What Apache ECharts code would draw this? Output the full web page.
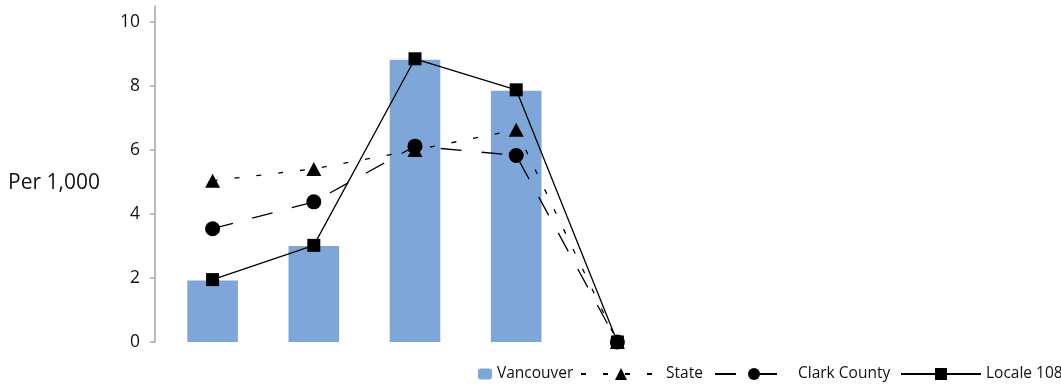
<!DOCTYPE html>
<html>
<head>
<meta charset="utf-8">
<script src="https://cdn.jsdelivr.net/npm/echarts@6/dist/echarts.min.js"></script>
<style>
html,body{margin:0;padding:0;background:#fff;}
#chart{width:1061px;height:386px;}
</style>
</head>
<body>
<div id="chart"></div>
<script>
// ---- data ----
var categories = ['Group 1', 'Group 2', 'Group 3', 'Group 4', 'Group 5'];
var vancouver = [1.92, 3.0, 8.82, 7.85, 0];
var state = [5.04, 5.41, 6.0, 6.63, 0];
var clarkCounty = [3.54, 4.38, 6.12, 5.83, 0];
var locale108 = [1.95, 3.02, 8.85, 7.88, 0];
var yTicks = [0, 2, 4, 6, 8, 10];
var yTitle = 'Per 1,000';

var FONT = '"Open Sans", "DejaVu Sans", sans-serif';
var TEXT = '#111111';
var chart = echarts.init(document.getElementById('chart'), null, {renderer: 'canvas'});

function legendAt(name, left, w, h) {
  return {
    data: [name], left: left, top: 366, itemWidth: w, itemHeight: h, itemGap: 0,
    padding: 0,
    textStyle: {fontFamily: FONT, fontSize: 15.5, color: TEXT}
  };
}

var option = {
  animation: false,
  backgroundColor: '#ffffff',
  grid: {left: 162, right: 393, top: 6, bottom: 44, containLabel: false},
  xAxis: {
    type: 'category', data: categories, boundaryGap: true,
    axisLine: {show: false}, axisTick: {show: false}, axisLabel: {show: false},
    splitLine: {show: false}
  },
  yAxis: {
    type: 'value', min: 0, max: 10.5, offset: 7,
    axisLine: {show: true, lineStyle: {color: '#a6a6a6', width: 1.5}},
    axisTick: {show: true, customValues: yTicks, length: 5, lineStyle: {color: '#a6a6a6', width: 1.5}},
    axisLabel: {customValues: yTicks, margin: 15, fontFamily: FONT, fontSize: 17.5, color: TEXT},
    splitLine: {show: false}
  },
  graphic: [{
    type: 'text', left: 8, top: 173,
    style: {text: yTitle, font: '21px ' + FONT, fill: TEXT}
  }],
  legend: [
    legendAt('Vancouver', 478, 14, 11),
    legendAt('State', 580, 80, 15),
    legendAt('Clark County', 714, 78, 15),
    legendAt('Locale 108', 900, 80, 15)
  ],
  series: [
    {
      name: 'Vancouver', type: 'bar', data: vancouver, barWidth: '50%',
      itemStyle: {color: '#7ea6d8', borderWidth: 0}
    },
    {
      name: 'State', type: 'line', data: state,
      symbol: 'triangle', symbolSize: [15, 14],
      lineStyle: {color: '#000', width: 1.3, type: [5, 17]},
      itemStyle: {color: '#000'}
    },
    {
      name: 'Clark County', type: 'line', data: clarkCounty,
      symbol: 'circle', symbolSize: 15,
      lineStyle: {color: '#000', width: 1.3, type: [21, 20]},
      itemStyle: {color: '#000'}
    },
    {
      name: 'Locale 108', type: 'line', data: locale108,
      symbol: 'rect', symbolSize: 13,
      lineStyle: {color: '#000', width: 1.3, type: 'solid'},
      itemStyle: {color: '#000'}
    }
  ]
};
chart.setOption(option);
</script>
</body>
</html>
